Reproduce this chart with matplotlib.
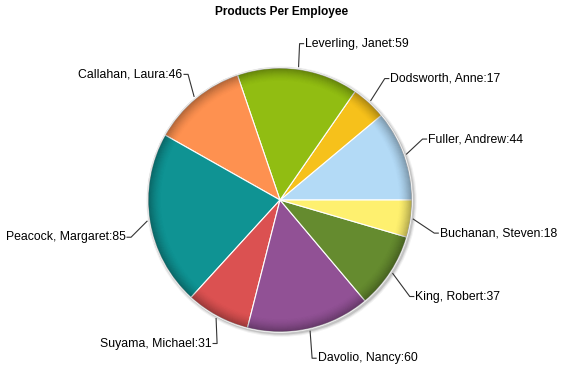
import numpy as np
import matplotlib
matplotlib.use("Agg")
import matplotlib.pyplot as plt
from matplotlib.patches import Wedge, Circle

# --- datos ---
empleados = ["Fuller, Andrew", "Dodsworth, Anne", "Leverling, Janet", "Callahan, Laura",
             "Peacock, Margaret", "Suyama, Michael", "Davolio, Nancy", "King, Robert",
             "Buchanan, Steven"]
productos = [44, 17, 59, 46, 85, 31, 60, 37, 18]
colores = ["#b3daf6", "#f6c11b", "#91bd12", "#fe9150", "#0f9393", "#db5151",
           "#915195", "#658b2f", "#fef06f"]

# desplazamiento (px) del codo de cada linea guia respecto al borde
codos = [(16, 15), (14, 22), (1, 23), (-6, 22), (-16, -16), (1, -25), (2, -27),
         (17, -23), (21, -14)]

W, H = 569, 381
CX, CY, R = 280, 200, 132   # centro y radio en pixeles

fig = plt.figure(figsize=(W / 100, H / 100), dpi=100)
ax = fig.add_axes([0, 0, 1, 1])

# sombra suave exterior
for i, a in enumerate([0.05, 0.08, 0.12]):
    ax.add_patch(Circle((0.012, -0.012), 1.0 + (3 - i) * 0.008, color="black",
                        alpha=a, lw=0, zorder=0))
ax.add_patch(Circle((0, 0), 1.008, color="#d8d8d8", lw=0, zorder=1))

wedges, _ = ax.pie(productos, colors=colores, startangle=0, counterclock=True,
                   radius=1.0, wedgeprops=dict(edgecolor="white", linewidth=0.8))
for w in wedges:
    w.set_zorder(2)

# pie() fija sus propios limites: se reponen aqui
ax.set_xlim(-CX / R, (W - CX) / R)
ax.set_ylim(-(H - CY) / R, CY / R)
ax.set_aspect("auto")
ax.axis("off")

# bisel: oscurecer el borde del pastel
n = 14
r_in = 0.90
for k in range(n):
    r_out = r_in + (1.0 - r_in) * (k + 1) / n
    t = (k + 1) / n
    ax.add_patch(Wedge((0, 0), r_out, 0, 360, width=(1.0 - r_in) / n,
                       color="black", alpha=0.32 * t ** 1.6, lw=0, zorder=3))

# etiquetas con lineas guia
total = sum(productos)
ang0 = 0.0
for nombre, v, (dx, dy) in zip(empleados, productos, codos):
    span = v / total * 360
    mid = np.radians(ang0 + span / 2)
    ang0 += span
    x0, y0 = 1.02 * np.cos(mid), 1.02 * np.sin(mid)
    x1, y1 = x0 + dx / R, y0 + dy / R
    lado = 1 if np.cos(mid) >= 0 else -1
    x2 = x1 + lado * 4 / R
    ax.plot([x0, x1, x2], [y0, y1, y1], color="#333333", lw=0.8, zorder=4)
    ax.text(x2 + lado * 1.5 / R, y1, f"{nombre}:{v}", ha="left" if lado > 0 else "right",
            va="center", fontsize=8.8, family="Liberation Sans", color="black", zorder=5)

fig.text(282 / W, 1 - 12 / H, "Products Per Employee", ha="center", va="center",
         fontsize=8.6, fontweight="bold", family="Liberation Sans")

fig.savefig("out.png", dpi=100)
